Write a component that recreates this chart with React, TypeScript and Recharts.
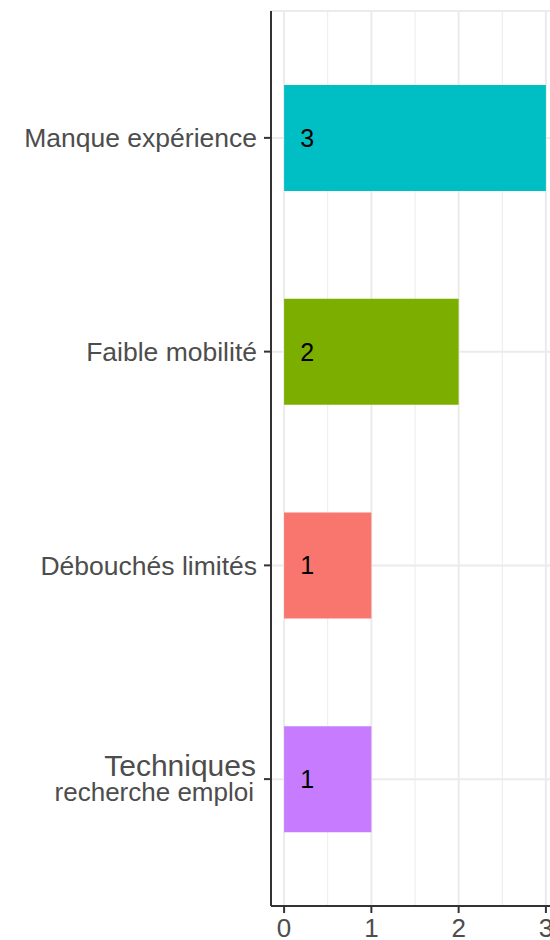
import React from 'react';
import { BarChart, Bar, XAxis, YAxis, CartesianGrid, Cell, LabelList } from 'recharts';

// Values
const categories = ['Manque expérience', 'Faible mobilité', 'Débouchés limités', 'Techniques\nrecherche emploi'];
const counts = [3, 2, 1, 1];
const xTicks = [0, 1, 2, 3];
const minorTicks = [0.5, 1.5, 2.5];

const barColors = ['#00BFC4', '#7CAE00', '#F8766D', '#C77CFF'];
const FONT = '"Liberation Sans", Arial, sans-serif';

const data = categories.map((name, i) => ({ name, value: counts[i] }));

const CategoryTick = (props: any) => {
  const { x, y, payload } = props;
  const lines = String(payload.value).split('\n');
  if (lines.length === 1) {
    return (
      <text x={x} y={y} dy="0.36em" textAnchor="end" fill="#4d4d4d" fontSize={26.5} fontFamily={FONT}>
        {lines[0]}
      </text>
    );
  }
  // two-line label: first line drawn a bit larger, like in the reference
  return (
    <g>
      <text x={x - 1} y={y - 3} textAnchor="end" fill="#4d4d4d" fontSize={30} fontFamily={FONT}>
        {lines[0]}
      </text>
      <text x={x - 3} y={y + 22} textAnchor="end" fill="#4d4d4d" fontSize={26} fontFamily={FONT}>
        {lines[1]}
      </text>
    </g>
  );
};

const BarValue = (props: any) => {
  const { x, y, height, value } = props;
  return (
    <text x={x + 23} y={y + height / 2} dy="0.35em" textAnchor="middle" fill="#000" fontSize={25} fontFamily={FONT}>
      {value}
    </text>
  );
};

export default function App() {
  return (
    <div style={{ position: 'fixed', left: 0, top: 0, width: 550, height: 940, overflow: 'hidden', background: '#fff' }}>
      <BarChart
        width={570}
        height={960}
        data={data}
        layout="vertical"
        margin={{ top: 11, right: 11, bottom: 14, left: 0 }}
      >
        <CartesianGrid horizontal={false} verticalValues={minorTicks} stroke="#ebebeb" strokeWidth={1} />
        <CartesianGrid stroke="#ebebeb" strokeWidth={2} />
        <XAxis
          type="number"
          domain={[-0.15, 3.15]}
          ticks={xTicks}
          allowDataOverflow
          height={40}
          axisLine={{ stroke: '#333333', strokeWidth: 2 }}
          tickLine={{ stroke: '#333333', strokeWidth: 2 }}
          tickSize={7}
          tickMargin={6}
          tick={{ fill: '#4d4d4d', fontSize: 26, fontFamily: FONT }}
        />
        <XAxis
          xAxisId="top"
          orientation="top"
          type="number"
          domain={[-0.15, 3.15]}
          height={0}
          tick={false}
          tickLine={false}
          axisLine={{ stroke: '#333333', strokeWidth: 2 }}
        />
        <YAxis
          type="category"
          dataKey="name"
          width={271}
          padding={{ top: 20, bottom: 20 }}
          axisLine={{ stroke: '#333333', strokeWidth: 2 }}
          tickLine={{ stroke: '#333333', strokeWidth: 2 }}
          tickSize={7}
          tickMargin={7}
          tick={<CategoryTick />}
          interval={0}
        />
        <Bar dataKey="value" barSize={106} isAnimationActive={false}>
          {data.map((d, i) => (
            <Cell key={d.name} fill={barColors[i]} />
          ))}
          <LabelList dataKey="value" content={<BarValue />} />
        </Bar>
      </BarChart>
    </div>
  );
}
